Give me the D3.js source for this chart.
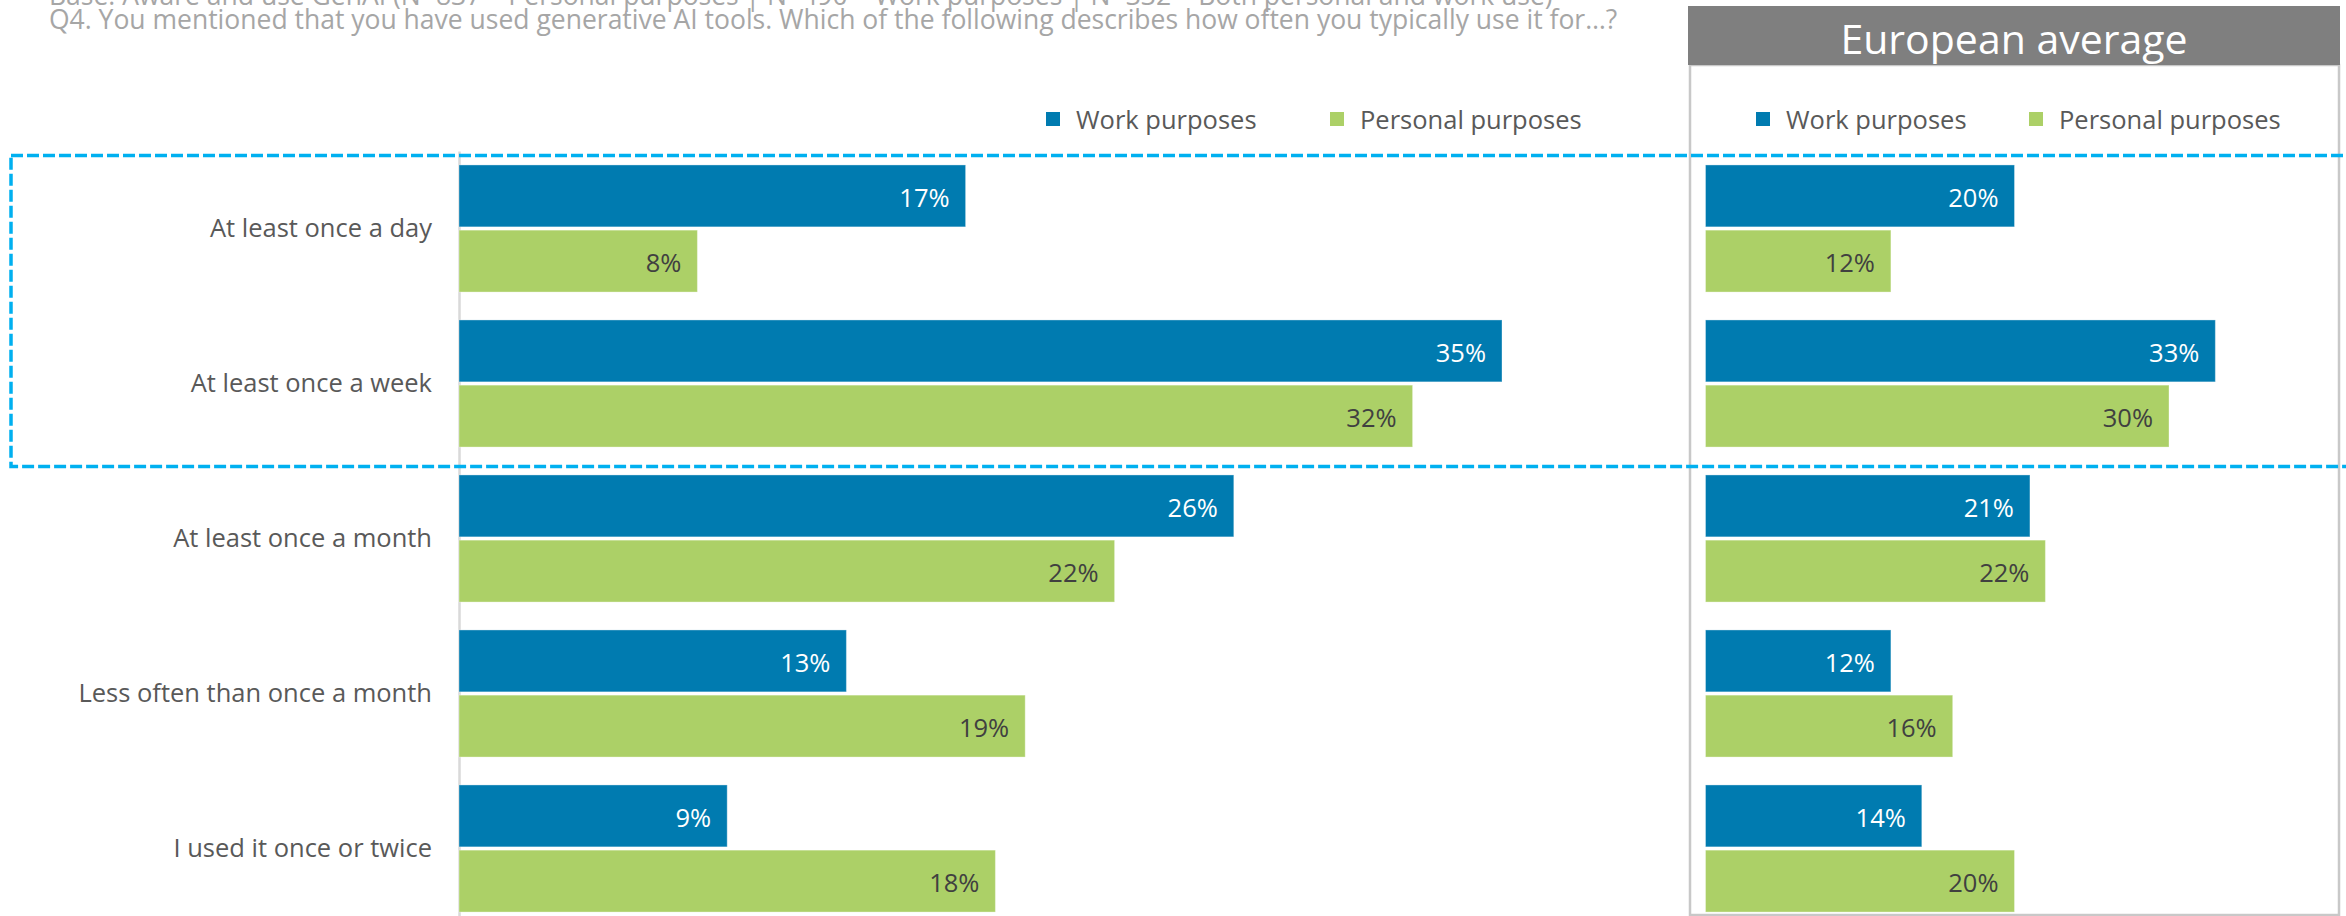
<!DOCTYPE html>
<html>
<head>
<meta charset="utf-8">
<script src="https://cdn.jsdelivr.net/npm/d3@7"></script>
<style>
  body { margin: 0; background: #ffffff; }
  svg { display: block; font-family: "Open Sans", "Noto Sans", sans-serif; }
</style>
</head>
<body>
<div id="grafica"></div>
<script>
var categories = ["At least once a day", "At least once a week", "At least once a month",
                  "Less often than once a month", "I used it once or twice"];
var seriesNames = ["Work purposes", "Personal purposes"];
var countryWork = [17, 35, 26, 13, 9];
var countryPersonal = [8, 32, 22, 19, 18];
var europeWork = [20, 33, 21, 12, 14];
var europePersonal = [12, 30, 22, 16, 20];
var baseText = "Base: Aware and use GenAI (N=837 \u2013 Personal purposes | N=490 \u2013 Work purposes | N=332 \u2013 Both personal and work use)";
var questionText = "Q4. You mentioned that you have used generative AI tools. Which of the following describes how often you typically use it for\u2026?";
var panelTitle = "European average";

var width = 2346, height = 916;
var blue = "#007bb0", green = "#acd067";

var svg = d3.select("#grafica")
  .append("svg")
    .attr("width", width)
    .attr("height", height);

// header text (first line sits mostly above the page, as in the slide)
svg.append("text")
  .attr("x", 49).attr("y", 5)
  .style("font-size", "26.5px").style("fill", "#a6a6a6")
  .text(baseText);
svg.append("text")
  .attr("x", 49).attr("y", 29)
  .style("font-size", "26.5px").style("fill", "#a6a6a6")
  .text(questionText);

// scales
var y = d3.scaleBand()
  .domain(categories)
  .range([151, 926])
  .paddingInner(0.18)
  .paddingOuter(0.09);

var ySub = d3.scaleBand()
  .domain(seriesNames)
  .range([0, y.bandwidth()])
  .paddingInner(0.05);

var x = d3.scaleLinear().domain([0, 40]).range([459, 1651]);
var x2 = d3.scaleLinear().domain([0, 40]).range([1705.5, 2323.5]);

// right panel frame
svg.append("rect")
  .attr("x", 1690).attr("y", 65)
  .attr("width", 649).attr("height", 850)
  .style("fill", "none")
  .style("stroke", "#c8c8c8")
  .attr("stroke-width", 2.5);

svg.append("rect")
  .attr("x", 1688).attr("y", 6)
  .attr("width", 652).attr("height", 59)
  .style("fill", "#7f7f7f");

svg.append("text")
  .attr("x", 2014).attr("y", 38)
  .attr("text-anchor", "middle")
  .attr("dominant-baseline", "central")
  .style("font-size", "41px").style("fill", "#ffffff")
  .text(panelTitle);

// category axis (left)
var yAxis = svg.append("g")
  .attr("transform", "translate(459,0)")
  .call(d3.axisLeft(y).tickSize(0).tickPadding(27));
yAxis.select(".domain").attr("stroke", "#d9d9d9").attr("stroke-width", 2.5);
yAxis.selectAll("text")
  .style("font-size", "25.5px")
  .style("font-family", "'Open Sans', 'Noto Sans', sans-serif")
  .style("fill", "#595959");

// legends
function legend(x0, gap) {
  var lg = svg.append("g").attr("transform", "translate(" + x0 + ",119)");
  seriesNames.forEach(function (s, i) {
    var g = lg.append("g").attr("transform", "translate(" + (i * gap) + ",0)");
    g.append("rect")
      .attr("x", 0).attr("y", -7)
      .attr("width", 14).attr("height", 14)
      .style("fill", i == 0 ? blue : green);
    g.append("text")
      .attr("x", 30).attr("y", 0)
      .attr("dominant-baseline", "central")
      .style("font-size", "25.5px").style("fill", "#595959")
      .text(s);
  });
}
legend(1046, 284);
legend(1756, 273);

// bars
function drawBars(xs, work, personal) {
  var rows = categories.map(function (c, i) {
    return [{cat: c, key: seriesNames[0], v: work[i]}, {cat: c, key: seriesNames[1], v: personal[i]}];
  });
  var grp = svg.append("g").selectAll("g")
    .data(rows)
    .enter().append("g")
      .attr("transform", function (d) { return "translate(0," + y(d[0].cat) + ")"; });

  grp.selectAll("rect")
    .data(function (d) { return d; })
    .enter().append("rect")
      .attr("x", xs(0))
      .attr("y", function (d) { return ySub(d.key); })
      .attr("width", function (d) { return xs(d.v) - xs(0); })
      .attr("height", ySub.bandwidth())
      .style("fill", function (d) { return d.key == seriesNames[0] ? blue : green; })
      .style("stroke", "#ffffff")
      .style("stroke-opacity", 0.35)
      .attr("stroke-width", 1);

  grp.selectAll("text")
    .data(function (d) { return d; })
    .enter().append("text")
      .attr("x", function (d) { return xs(d.v) - 16; })
      .attr("y", function (d) { return ySub(d.key) + ySub.bandwidth() / 2 + 1; })
      .attr("text-anchor", "end")
      .attr("dominant-baseline", "central")
      .style("font-size", "25.5px")
      .style("fill", function (d) { return d.key == seriesNames[0] ? "#ffffff" : "#404040"; })
      .text(function (d) { return d.v + "%"; });
}
drawBars(x, countryWork, countryPersonal);
drawBars(x2, europeWork, europePersonal);

// highlight box round the first two rows
var boxTop = y(categories[0]) - 9.5;
var boxBottom = y(categories[1]) + y.bandwidth() + 19.5;
svg.append("rect")
  .attr("x", 11).attr("y", boxTop)
  .attr("width", 2400).attr("height", boxBottom - boxTop)
  .style("fill", "none")
  .style("stroke", "#00b0f0")
  .attr("stroke-width", 3.5)
  .attr("stroke-dasharray", "12,4");
</script>
</body>
</html>
